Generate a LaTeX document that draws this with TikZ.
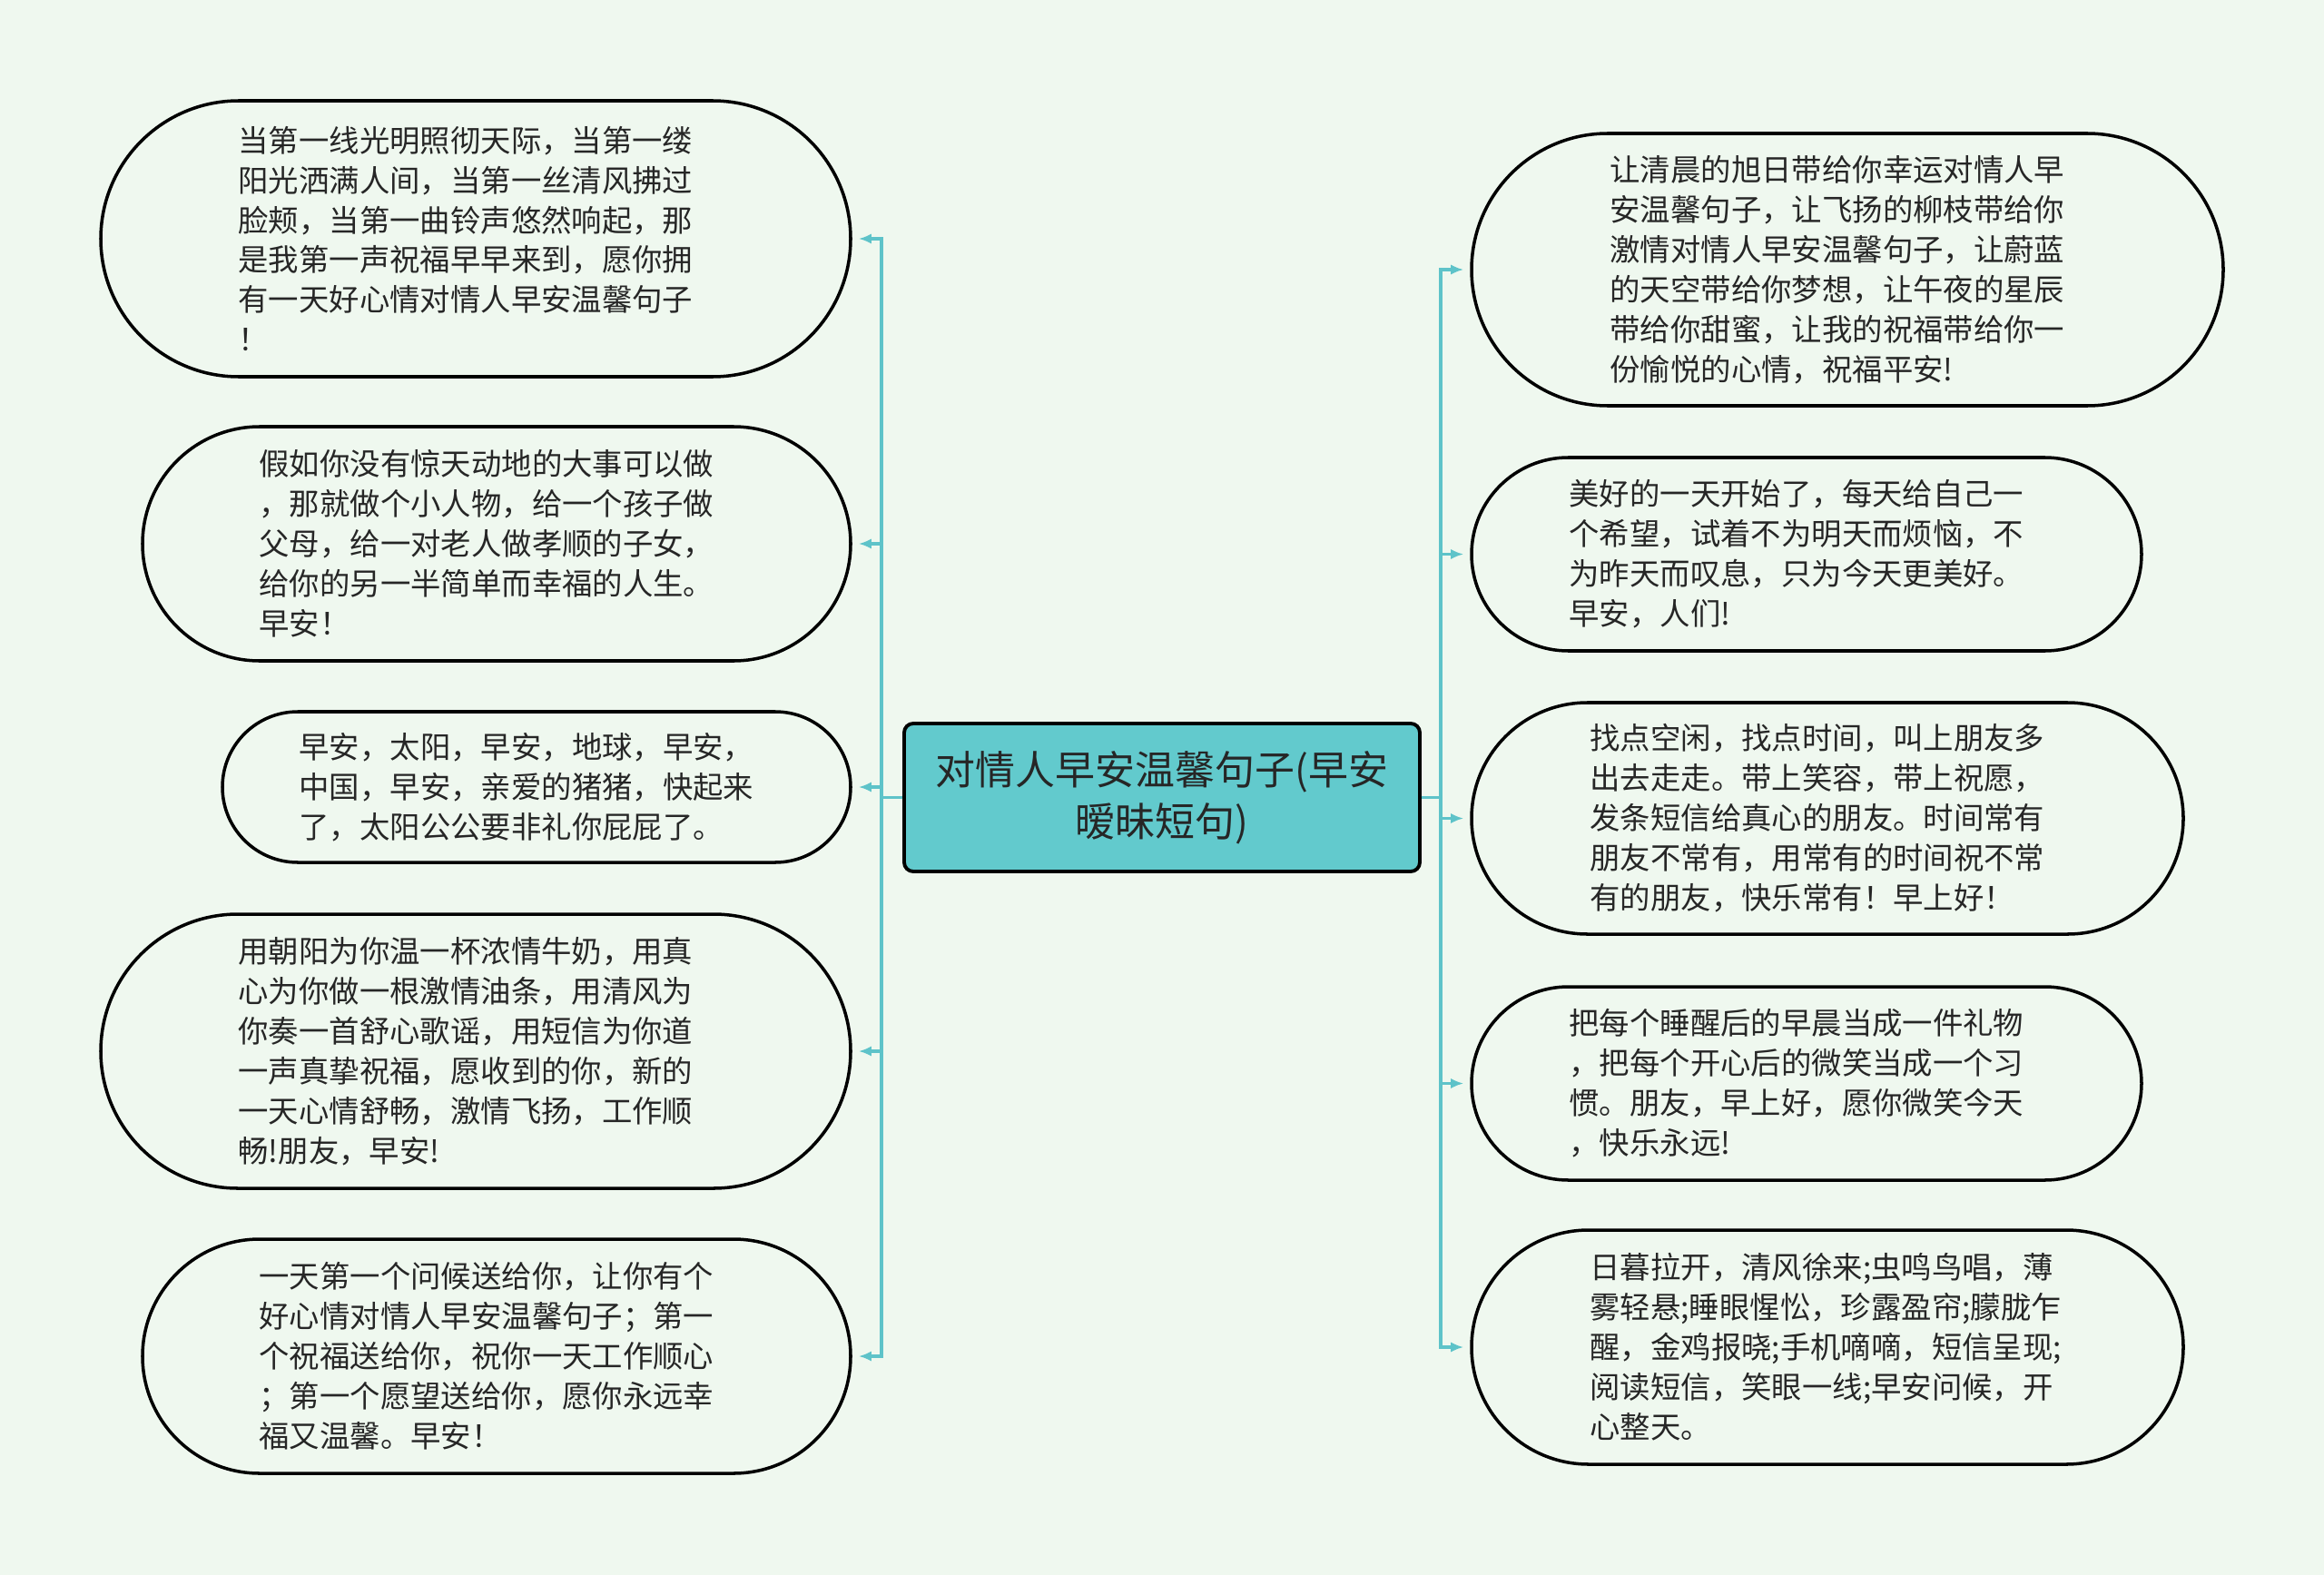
\documentclass[tikz,border=0pt]{standalone}
\usepackage{fontspec}
\usepackage{tikz}
\usepackage{xcolor}
\usetikzlibrary{shapes.misc, arrows.meta, positioning}
\newfontfamily\cjk{Noto Sans CJK SC}
\definecolor{Mint_Bg}{HTML}{EFF8EF}
\definecolor{Teal_Title}{HTML}{62CACD}
\definecolor{Teal_Link}{HTML}{5EC3C9}
\definecolor{Ink_Grey}{HTML}{262626}

\begin{document}
\begin{tikzpicture}[
    leaf/.style={rounded rectangle, draw=black, line width=1pt, fill=Mint_Bg, text=Ink_Grey,
        font=\cjk\fontsize{9.5}{12.5}\selectfont, align=left, text width=5.23cm, inner sep=0pt},
    link/.style={draw=Teal_Link, line width=0.9pt, -{Latex[length=4pt,width=3.2pt]}, shorten >=2pt}
]
    % page
    \fill[Mint_Bg] (0,0) rectangle (25.6,-17.35);
    \useasboundingbox (0,0) rectangle (25.6,-17.35);

    % Title
    \node[draw=black, line width=1.1pt, fill=Teal_Title, rounded corners=0.1cm, text=Ink_Grey,
        minimum width=5.68cm, minimum height=1.63cm, text width=5.5cm, align=center, inner sep=0pt,
        font=\cjk\fontsize{12.5}{16.3}\selectfont] (title) at (12.8,-8.785)
        {对情人早安温馨句子(早安\\暧昧短句)};

    % Left side
    \node[leaf, minimum width=8.26cm, minimum height=3.04cm] (l1) at (5.24,-2.63)
        {当第一线光明照彻天际，当第一缕\\阳光洒满人间，当第一丝清风拂过\\脸颊，当第一曲铃声悠然响起，那\\是我第一声祝福早早来到，愿你拥\\有一天好心情对情人早安温馨句子\\！};
    \node[leaf, minimum width=7.8cm, minimum height=2.58cm] (l2) at (5.47,-5.99)
        {假如你没有惊天动地的大事可以做\\，那就做个小人物，给一个孩子做\\父母，给一对老人做孝顺的子女，\\给你的另一半简单而幸福的人生。\\早安！};
    \node[leaf, minimum width=6.92cm, minimum height=1.66cm] (l3) at (5.91,-8.67)
        {早安，太阳，早安，地球，早安，\\中国，早安，亲爱的猪猪，快起来\\了，太阳公公要非礼你屁屁了。};
    \node[leaf, minimum width=8.26cm, minimum height=3.02cm] (l4) at (5.24,-11.58)
        {用朝阳为你温一杯浓情牛奶，用真\\心为你做一根激情油条，用清风为\\你奏一首舒心歌谣，用短信为你道\\一声真挚祝福，愿收到的你，新的\\一天心情舒畅，激情飞扬，工作顺\\畅!朋友，早安!};
    \node[leaf, minimum width=7.8cm, minimum height=2.58cm] (l5) at (5.47,-14.94)
        {一天第一个问候送给你，让你有个\\好心情对情人早安温馨句子；第一\\个祝福送给你，祝你一天工作顺心\\；第一个愿望送给你，愿你永远幸\\福又温馨。早安！};

    % Right side
    \node[leaf, minimum width=8.28cm, minimum height=3.0cm] (r1) at (20.35,-2.97)
        {让清晨的旭日带给你幸运对情人早\\安温馨句子，让飞扬的柳枝带给你\\激情对情人早安温馨句子，让蔚蓝\\的天空带给你梦想，让午夜的星辰\\带给你甜蜜，让我的祝福带给你一\\份愉悦的心情，祝福平安!};
    \node[leaf, minimum width=7.38cm, minimum height=2.13cm] (r2) at (19.9,-6.105)
        {美好的一天开始了，每天给自己一\\个希望，试着不为明天而烦恼，不\\为昨天而叹息，只为今天更美好。\\早安，人们!};
    \node[leaf, minimum width=7.84cm, minimum height=2.55cm] (r3) at (20.13,-9.015)
        {找点空闲，找点时间，叫上朋友多\\出去走走。带上笑容，带上祝愿，\\发条短信给真心的朋友。时间常有\\朋友不常有，用常有的时间祝不常\\有的朋友，快乐常有！早上好！};
    \node[leaf, minimum width=7.38cm, minimum height=2.13cm] (r4) at (19.9,-11.935)
        {把每个睡醒后的早晨当成一件礼物\\，把每个开心后的微笑当成一个习\\惯。朋友，早上好，愿你微笑今天\\，快乐永远!};
    \node[leaf, minimum width=7.84cm, minimum height=2.58cm] (r5) at (20.13,-14.84)
        {日暮拉开，清风徐来;虫鸣鸟唱，薄\\雾轻悬;睡眼惺忪，珍露盈帘;朦胧乍\\醒，金鸡报晓;手机嘀嘀，短信呈现;\\阅读短信，笑眼一线;早安问候，开\\心整天。};

    % links
    \foreach \n in {l1,l2,l3,l4,l5}
        \draw[link] (title.west) -- ++(-0.23,0) |- (\n.east);
    \foreach \n in {r1,r2,r3,r4,r5}
        \draw[link] (title.east) -- ++(0.21,0) |- (\n.west);
\end{tikzpicture}
\end{document}
